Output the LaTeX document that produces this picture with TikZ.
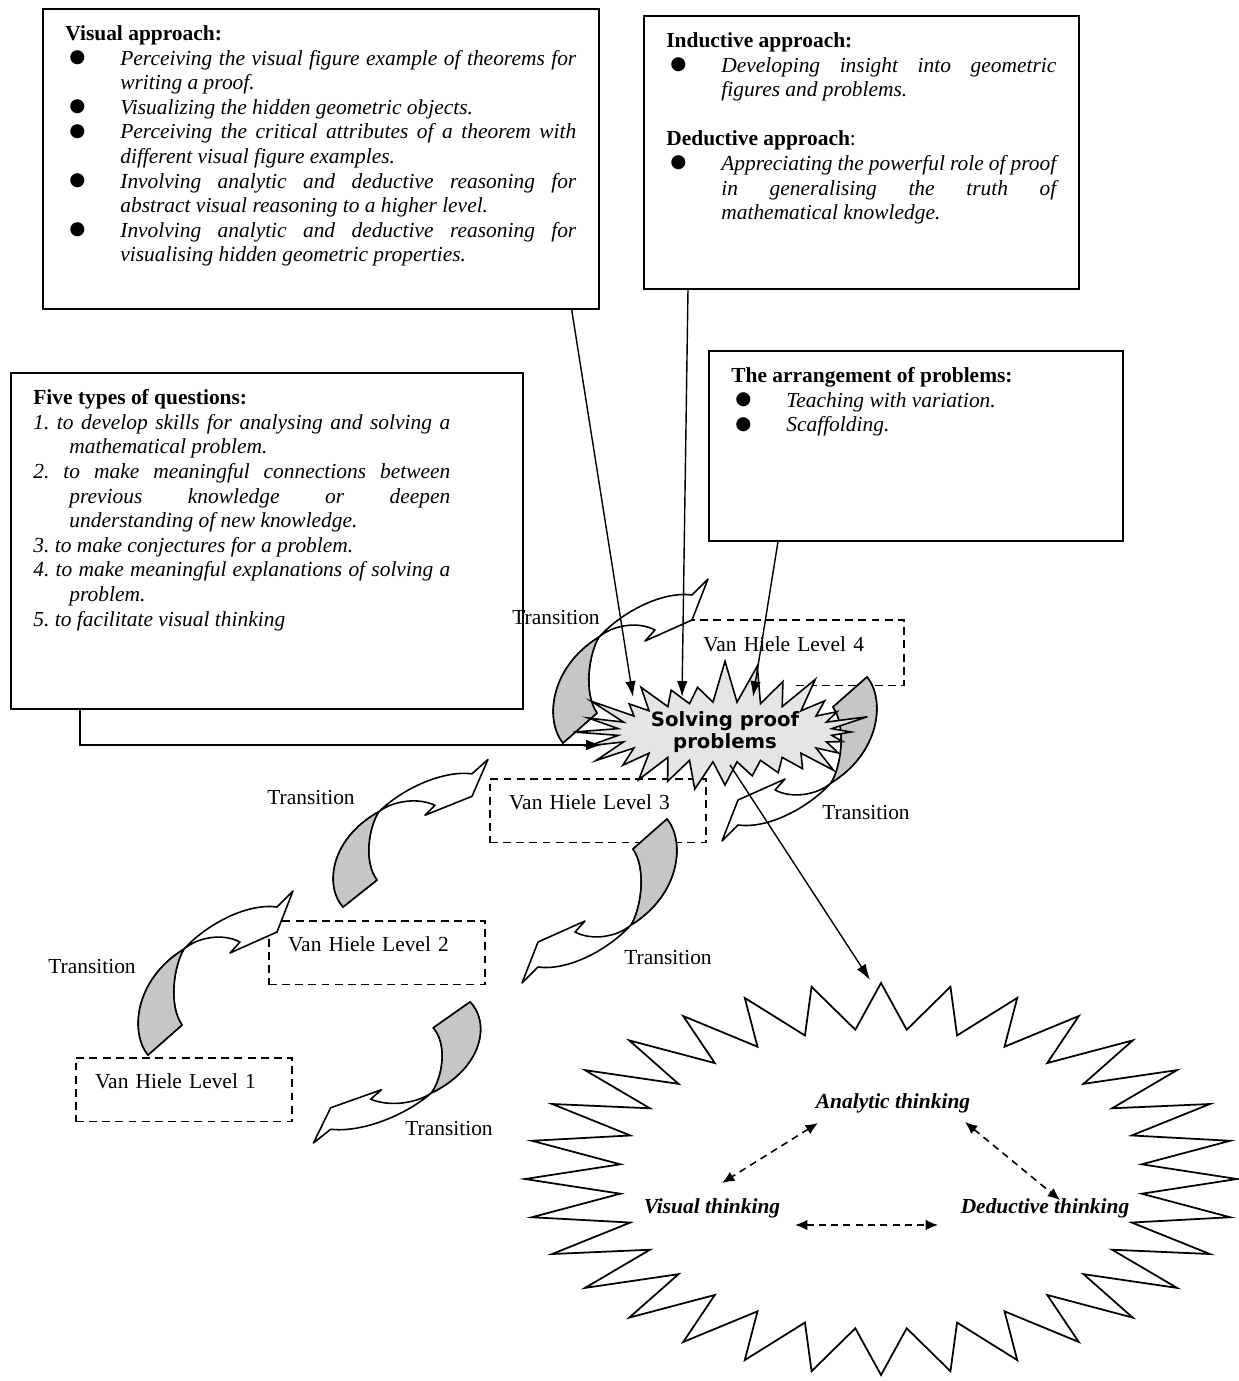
\documentclass[tikz,border=0pt]{standalone}
\usepackage{fontspec}
\setmainfont{Liberation Serif}
\newfontfamily\burstfont{DejaVu Sans}
\usetikzlibrary{arrows.meta, shapes.symbols, calc}

% bullet and numbered lines inside the boxes
\newcommand\dotitem[1]{\par\noindent\hangindent=1.1cm\hangafter=1%
  \makebox[1.1cm][l]{\hspace{0.08cm}\raisebox{1.6pt}{\burstfont\fontsize{10.5}{10}\selectfont ●}}\textit{#1}}
\newcommand\numitem[2]{\par\noindent\hangindent=0.72cm\hangafter=1\textit{#1\ #2}}

\tikzset{
	infobox/.style={
		draw,
		line width=1pt,
		anchor=north west,
		inner xsep=0.45cm,
		inner ysep=9.5pt,
		font=\fontsize{12.2}{14}\selectfont
	},
	levelbox/.style={
		draw,
		dash pattern=on 4.5pt off 3pt,
		line width=0.9pt,
		anchor=north west,
		inner xsep=11pt,
		inner ysep=9pt,
		text width=101pt,
		text height=8.5pt,
		text depth=9.8pt,
		align=left,
		font=\fontsize{12.2}{14}\selectfont
	},
	pics/turnarrow/.style={code={
		\draw[line width=0.9pt, line join=round, fill=white]
			(0,0) .. controls (-18,-22) and (-14,-75) .. (36,-106)
			.. controls (60,-132) and (100,-152) .. (129,-148)
			-- (145,-164) -- (129,-123) -- (82,-102) -- (92,-113)
			.. controls (75,-122) and (50,-118) .. (36,-106)
			.. controls (26,-90) and (20,-50) .. (34,-30) -- cycle;
		\draw[line width=0.9pt, line join=round, fill=gray!45]
			(0,0) .. controls (-18,-22) and (-14,-75) .. (36,-106)
			.. controls (26,-90) and (20,-50) .. (34,-30) -- cycle;
	}}
}

\begin{document}
\begin{tikzpicture}[x=0.02cm, y=-0.02cm]
	\tikzset{feed/.style={-{Latex[length=9pt,width=6pt]}, line width=0.8pt}}
	\tikzset{link/.style={{Latex[length=7pt,width=6pt]}-{Latex[length=7pt,width=6pt]}, dash pattern=on 4pt off 3pt, line width=0.9pt}}
	\tikzset{trans/.style={font=\fontsize{12.2}{14}\selectfont, inner sep=1pt}}
	\tikzset{thought/.style={font=\fontsize{12.2}{14}\selectfont\bfseries\itshape, inner sep=2pt}}
	\tikzset{burst/.style={shape=starburst, draw, line width=0.9pt, fill=gray!20,
		starburst points=28, starburst point height=0.9cm, random starburst=7,
		minimum width=6.1cm, minimum height=3.0cm, align=center, inner sep=0pt,
		font=\burstfont\bfseries\fontsize{11.2}{13}\selectfont}}
	
	\useasboundingbox (0,0) rectangle (1238,1381);
	
	% the four text boxes
	\node[infobox] (visual) at (42,8) {\begin{minipage}[c][5.33cm][t]{10.22cm}
		\textbf{Visual approach:}
		\dotitem{Perceiving the visual figure example of theorems for\linebreak writing a proof.}
		\dotitem{Visualizing the hidden geometric objects.}
		\dotitem{Perceiving the critical attributes of a theorem with\linebreak different visual figure examples.}
		\dotitem{Involving analytic and deductive reasoning for\linebreak abstract visual reasoning to a higher level.}
		\dotitem{Involving analytic and deductive reasoning for\linebreak visualising hidden geometric properties.}
	\end{minipage}};
	
	\node[infobox] (inductive) at (643,15) {\begin{minipage}[c][4.79cm][t]{7.8cm}
		\textbf{Inductive approach:}
		\dotitem{Developing insight into geometric\linebreak figures and problems.}
		\par\vspace{14pt}
		\textbf{Deductive approach}:
		\dotitem{Appreciating the powerful role of proof\linebreak in generalising the truth of\linebreak mathematical knowledge.}
	\end{minipage}};
	
	\node[infobox] (questions) at (10,372) {\begin{minipage}[c][6.05cm][t]{9.34cm}
		\rightskip=1cm
		\textbf{Five types of questions:}
		\numitem{1.}{to develop skills for analysing and solving a\linebreak mathematical problem.}
		\numitem{2.}{to make meaningful connections between\linebreak previous knowledge or deepen\linebreak understanding of new knowledge.}
		\numitem{3.}{to make conjectures for a problem.}
		\numitem{4.}{to make meaningful explanations of solving a\linebreak problem.}
		\numitem{5.}{to facilitate visual thinking}
	\end{minipage}};
	
	\node[infobox] (arrange) at (708,350) {\begin{minipage}[c][3.13cm][t]{7.38cm}
		\textbf{The arrangement of problems:}
		\dotitem{Teaching with variation.}
		\dotitem{Scaffolding.}
	\end{minipage}};
	
	% van Hiele levels
	\node[levelbox, draw=none, inner xsep=6pt, text width=107.6pt] (level4) at (692,620) {Van Hiele Level 4};
	\draw[dash pattern=on 4.5pt off 3pt, line width=0.9pt]
		([xshift=-2.16cm]level4.south east) -- (level4.south east) -- (level4.north east) -- (level4.north west);
	\node[levelbox] (level3) at (489,778) {Van Hiele Level 3};
	\node[levelbox] (level2) at (268,920) {Van Hiele Level 2};
	\node[levelbox] (level1) at (75,1057) {Van Hiele Level 1};
	
	% transitions between levels
	\pic at (148,1055) {turnarrow};
	\pic[yscale=0.9] at (343,907) {turnarrow};
	\pic at (563,743) {turnarrow};
	\pic[rotate=180] at (867,677) {turnarrow};
	\pic[rotate=180] at (667,819) {turnarrow};
	\pic[rotate=180, xscale=1.08, yscale=0.86] at (470,1002) {turnarrow};
	
	\node[trans] (trans1) at (92,966) {Transition};
	\node[trans] (trans2) at (311,798) {Transition};
	\node[trans] (trans3) at (556,618) {Transition};
	\node[trans] (trans4) at (866,813) {Transition};
	\node[trans] (trans5) at (668,958) {Transition};
	\node[trans] (trans6) at (449,1128) {Transition};
	
	% centre
	\node[burst] (solve) at (725,732) {Solving proof\\problems};
	
	% thinking star
	\coordinate (think) at (881,1179);
	\draw[line width=1pt, fill=white, shift={(think)}] (0:356 and 196)
		\foreach \k in {1,...,32} { -- ({11.25*\k-5.625}:262 and 150) -- ({11.25*\k}:356 and 196) } -- cycle;
	
	\node[thought] (analytic) at (893,1103) {Analytic thinking};
	\node[thought] (visualthink) at (712,1208) {Visual thinking};
	\node[thought] (deductive) at (1045,1208) {Deductive thinking};
	
	\draw[link] ($(analytic)+(-75,20)$) -- ($(visualthink)+(10,-25)$);
	\draw[link] ($(analytic)+(72,19)$) -- ($(deductive)+(15,-8)$);
	\draw[link] ($(visualthink)+(83,17)$) -- ($(deductive)+(-107,17)$);
	
	% feeding lines
	\draw[feed] ([xshift=-0.56cm]visual.south east) -- ($(solve.center)+(-92,-35)$);
	\draw[feed] ([xshift=0.9cm]inductive.south west) -- ($(solve.center)+(-43,-35)$);
	\draw[feed] ([xshift=1.4cm]arrange.south west) -- ($(solve.center)+(28,-35)$);
	\draw[feed] ([xshift=1.4cm]questions.south west) |- ($(solve.center)+(-123,13)$);
	\draw[feed] ($(solve.center)+(5,33)$) -- ($(think)+(-11,-199)$);
\end{tikzpicture}
\end{document}
